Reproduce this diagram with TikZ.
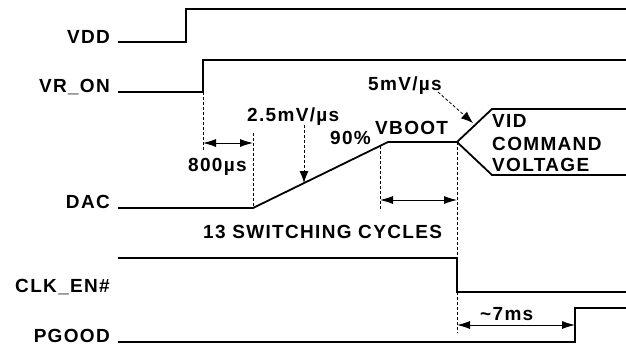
\documentclass[tikz,border=0pt]{standalone}
\usepackage{fontspec}
\newfontfamily\lblfont{Liberation Sans Bold}[LetterSpace=7]
\usetikzlibrary{arrows.meta}
\tikzset{
  sig/.style={line width=1.8bp, line join=miter},
  guide/.style={line width=0.8bp, dash pattern=on 3bp off 2bp},
  dim/.style={line width=0.9bp, {Latex[length=13bp,width=8bp]}-{Latex[length=13bp,width=8bp]}},
  ptr/.style={line width=0.8bp, dash pattern=on 3bp off 2bp, -{Latex[length=12bp,width=9bp]}},
  lbl/.style={inner sep=0pt, font=\fontsize{19bp}{22bp}\lblfont},
}
\begin{document}
\begin{tikzpicture}[x=1bp,y=-1bp]
\useasboundingbox (0,0) rectangle (626,346);
% signal labels
\node[lbl, anchor=base east] (lvdd) at (110,43) {VDD};
\node[lbl, anchor=base east] (lvr) at (110,92) {VR\_ON};
\node[lbl, anchor=base east] (ldac) at (110,208) {DAC};
\node[lbl, anchor=base east] (lclk) at (110,292) {CLK\_EN\#};
\node[lbl, anchor=base east] (lpg) at (110,342) {PGOOD};
% waveforms
\draw[sig] (118,42) -- (186,42) -- (186,9) -- (627,9);
\draw[sig] (118,92) -- (203,92) -- (203,60) -- (627,60);
\draw[sig] (118,208) -- (253,208) -- (388,142) -- (457,142) -- (492,109) -- (627,109);
\draw[sig] (457,142) -- (492,175) -- (627,175);
\draw[sig] (118,258) -- (457,258) -- (457,292) -- (627,292);
\draw[sig] (118,342) -- (575,342) -- (575,308) -- (627,308);
% named points
\coordinate (vrr) at (203,92);
\coordinate (vrd) at (203,150);
\coordinate (rs) at (253,208);
\coordinate (rst) at (253,133);
\coordinate (r90) at (380,146);
\coordinate (r90d) at (380,209);
\coordinate (vb) at (457,142);
\coordinate (vbd) at (457,333);
\coordinate (a1) at (203,143);
\coordinate (b1) at (253,143);
\coordinate (a2) at (380,200);
\coordinate (b2) at (457,200);
\coordinate (a3) at (457,325);
\coordinate (b3) at (575,325);
\coordinate (p1s) at (304,125);
\coordinate (p1e) at (304,183);
\coordinate (p2s) at (438,92);
\coordinate (p2e) at (473,123);
% guides
\draw[guide] (vrr) -- (vrd);
\draw[guide] (rst) -- (rs);
\draw[guide] (r90) -- (r90d);
\draw[guide] (vb) -- (vbd);
% dimension arrows
\draw[dim] (a1) -- (b1);
\draw[dim] (a2) -- (b2);
\draw[dim] (a3) -- (b3);
\draw[ptr] (p1s) -- (p1e);
\draw[ptr] (p2s) -- (p2e);
% texts
\node[lbl, anchor=base west] (t800) at (188,171) {800µs};
\node[lbl, anchor=base west] (t25) at (247,121) {2.5mV/µs};
\node[lbl, anchor=base west] (t5) at (368,90) {5mV/µs};
\node[lbl, anchor=base west] (t90) at (330,144) {90\%};
\node[lbl, anchor=base west] (tvb) at (375,134) {VBOOT};
\node[lbl, anchor=base west] (tvid) at (492,127) {VID};
\node[lbl, anchor=base west] (tcmd) at (492,150) {COMMAND};
\node[lbl, anchor=base west] (tvol) at (492,171) {VOLTAGE};
\node[lbl, anchor=base west] (t13) at (203,238) {13 SWITCHING CYCLES};
\node[lbl, anchor=base west] (t7) at (480,320) {\textasciitilde7ms};
\end{tikzpicture}
\end{document}
